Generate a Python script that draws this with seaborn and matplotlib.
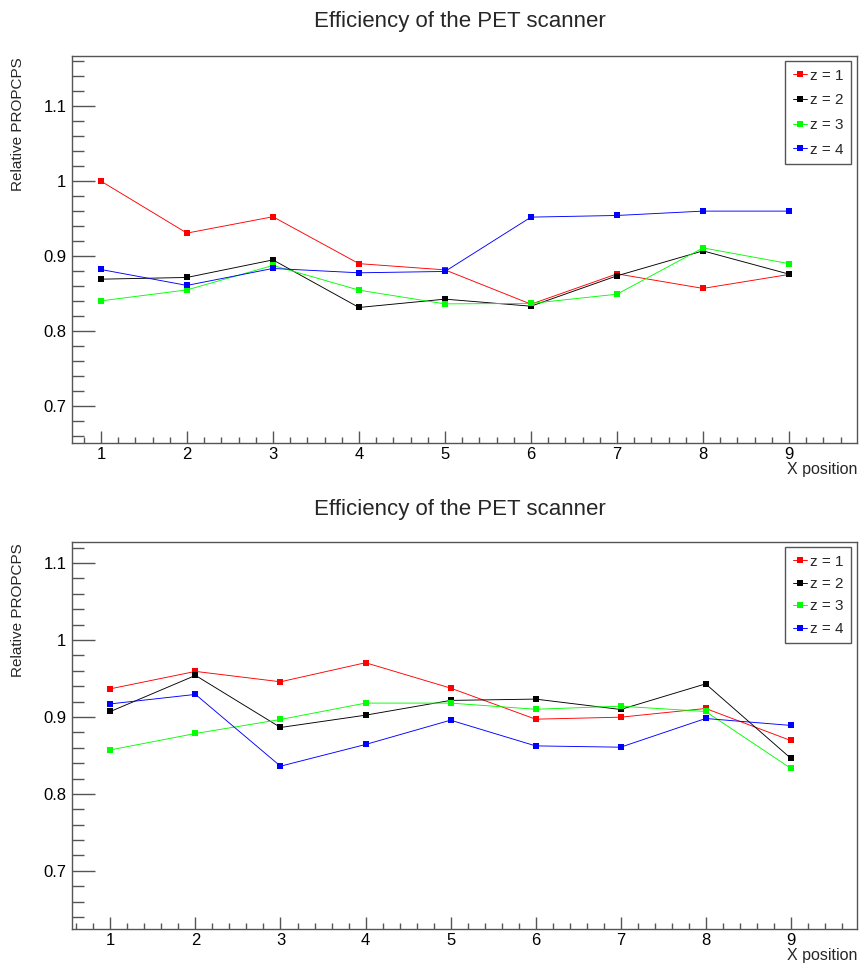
import numpy as np
import pandas as pd
import matplotlib
matplotlib.use("Agg")
import matplotlib.pyplot as plt
import seaborn as sns
from matplotlib.ticker import MultipleLocator, FuncFormatter

# ---------------- data ----------------
x_positions = [1, 2, 3, 4, 5, 6, 7, 8, 9]
series_labels = ["z = 1", "z = 2", "z = 3", "z = 4"]
series_colors = ["#ff0000", "#000000", "#00ff00", "#0000ff"]

top_z1 = [1.000, 0.9307, 0.9525, 0.890, 0.8817, 0.836, 0.8764, 0.857, 0.8756]
top_z2 = [0.8693, 0.8716, 0.895, 0.8316, 0.8427, 0.8333, 0.8738, 0.907, 0.876]
top_z3 = [0.8404, 0.855, 0.8876, 0.8547, 0.8364, 0.837, 0.8493, 0.911, 0.890]
top_z4 = [0.8822, 0.861, 0.8836, 0.8778, 0.8796, 0.952, 0.9542, 0.960, 0.960]

bot_z1 = [0.9366, 0.9592, 0.9457, 0.9705, 0.9375, 0.8971, 0.8997, 0.911, 0.8694]
bot_z2 = [0.9071, 0.954, 0.8863, 0.9023, 0.9215, 0.9232, 0.9097, 0.943, 0.8464]
bot_z3 = [0.8572, 0.8785, 0.8967, 0.918, 0.918, 0.910, 0.914, 0.9071, 0.8333]
bot_z4 = [0.917, 0.9293, 0.836, 0.8642, 0.8958, 0.8624, 0.8607, 0.898, 0.889]

title_text = "Efficiency of the PET scanner"
ylabel_text = "Relative PROPCPS"
xlabel_text = "X position"


def long_df(series):
    rows = []
    for lab, vals in zip(series_labels, series):
        for xv, yv in zip(x_positions, vals):
            rows.append({"x": xv, "y": yv, "series": lab})
    return pd.DataFrame(rows)


top_df = long_df([top_z1, top_z2, top_z3, top_z4])
bot_df = long_df([bot_z1, bot_z2, bot_z3, bot_z4])

# ---------------- style ----------------
sns.set_theme(style="white")
plt.rcParams["font.family"] = ["Liberation Sans", "DejaVu Sans"]

W, H = 859, 963
fig = plt.figure(figsize=(W / 100, H / 100), dpi=100)

frame_col = "#555555"
palette = dict(zip(series_labels, series_colors))
markers = {lab: "s" for lab in series_labels}


def fx(px):
    return px / W


def fy(py):
    return 1 - py / H


def make_panel(df, top_px, bot_px, ylim, xlim, title_y, xlabel_top, leg_box, leg_spacing):
    left_px, right_px = 72, 857
    ax = fig.add_axes([fx(left_px), fy(bot_px), fx(right_px) - fx(left_px), fy(top_px) - fy(bot_px)])
    sns.lineplot(data=df, x="x", y="y", hue="series", style="series",
                 palette=palette, markers=markers, dashes=False,
                 linewidth=0.65, markersize=4, markeredgewidth=0,
                 ax=ax, legend=True, sort=False)
    ax.set_xlim(*xlim)
    ax.set_ylim(*ylim)
    ax.set_xlabel("")
    ax.set_ylabel("")
    for s in ax.spines.values():
        s.set_visible(True)
        s.set_color(frame_col)
        s.set_linewidth(1.0)
    ax.xaxis.set_major_locator(MultipleLocator(1))
    ax.xaxis.set_minor_locator(MultipleLocator(0.2))
    ax.yaxis.set_major_locator(MultipleLocator(0.1))
    ax.yaxis.set_minor_locator(MultipleLocator(0.02))
    ax.yaxis.set_major_formatter(FuncFormatter(lambda v, p: f"{round(v, 3):g}"))
    ax.xaxis.set_major_formatter(FuncFormatter(lambda v, p: f"{round(v, 3):g}"))
    ax.tick_params(axis="both", which="both", direction="in", colors=frame_col,
                   labelcolor="black", labelsize=12, top=False, right=False,
                   left=True, bottom=True, width=1.0)
    ax.tick_params(axis="y", which="major", length=16.5, pad=4)
    ax.tick_params(axis="y", which="minor", length=8.6)
    ax.tick_params(axis="x", which="major", length=8.6, pad=3)
    ax.tick_params(axis="x", which="minor", length=4.3)
    ax.grid(False)

    handles, labels = ax.get_legend_handles_labels()
    ax.legend(handles, labels, loc="upper right",
              bbox_to_anchor=(fx(leg_box[0]), fy(leg_box[1])),
              bbox_transform=fig.transFigure,
              frameon=True, fancybox=False, edgecolor=frame_col,
              framealpha=1, fontsize=11, handlelength=0.9, handletextpad=0.2,
              labelspacing=leg_spacing, borderpad=0.5, borderaxespad=0)
    leg = ax.get_legend()
    leg.get_frame().set_linewidth(1.0)

    fig.text(fx(460), fy(title_y), title_text, ha="center", va="center", fontsize=16)
    fig.text(fx(18), fy(top_px + 1), ylabel_text, rotation=90, ha="center", va="top", fontsize=11)
    fig.text(fx(right_px), fy(xlabel_top), xlabel_text, ha="right", va="top", fontsize=11.5)
    return ax


make_panel(top_df, 56, 443, (0.651, 1.1667), (0.664, 9.79), 22, 462, (851, 61), 0.7)
make_panel(bot_df, 542.3, 929.3, (0.624, 1.127), (0.548, 9.78), 510, 948, (851, 547), 0.55)

fig.savefig("out.png", dpi=100)
